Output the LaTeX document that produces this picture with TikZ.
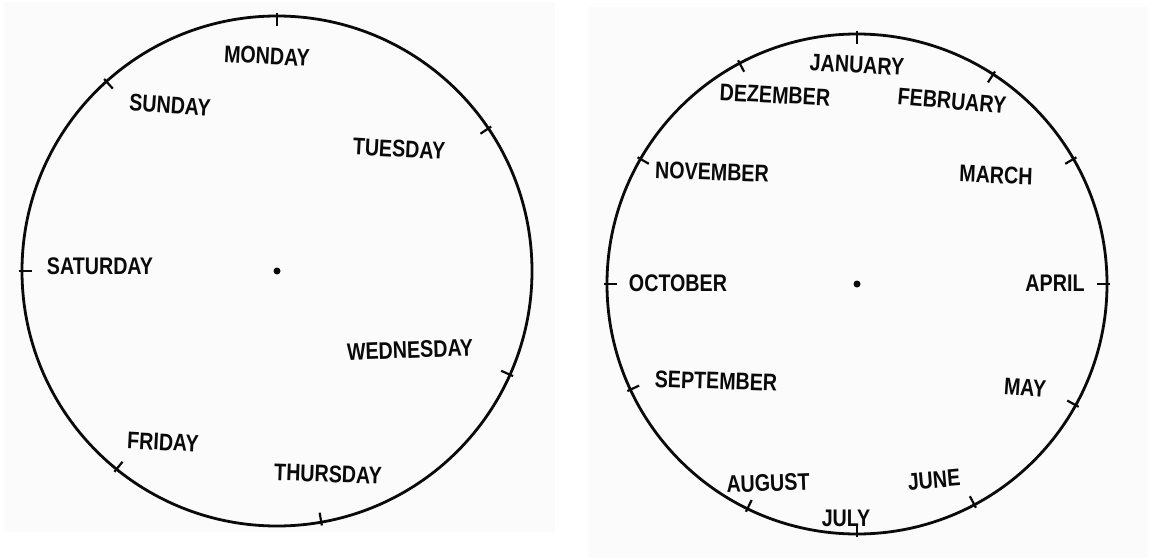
\documentclass[tikz,border=0pt]{standalone}
\usepackage{fontspec}
\usepackage{xcolor}
\usepackage{tikz}
\usetikzlibrary{positioning}
\setmainfont{Liberation Sans}[FakeStretch=0.82]
\definecolor{ink}{HTML}{0A0A0A}
\definecolor{paper}{HTML}{FBFBFB}

\begin{document}
\begin{tikzpicture}[
  x=1pt, y=1pt,
  font=\fontsize{24}{24}\selectfont\bfseries,
  face/.style={circle, draw=ink, line width=2.8pt, inner sep=0pt},
  lbl/.style={text=ink, inner sep=0pt},
  tk/.style={draw=ink, line width=2.2pt},
  hub/.style={circle, fill=ink, inner sep=0pt, minimum size=7pt}
]
\useasboundingbox (0,0) rectangle (1169,558);
\fill[paper] (4,26) rectangle (555,556);
\fill[paper] (588,0) rectangle (1148,551);

% weekdays
\node[face, minimum size=510pt] (lclock) at (277,287) {};
\node[hub] (lhub) at (lclock.center) {};
\foreach \a in {90,132,34,180,-24,-129,-80}
  \draw[tk] ([shift={(\a:2)}]lclock.\a) -- ([shift={({\a+180}:11)}]lclock.\a);

\node[lbl, rotate=-3] (mon) at (267,502) {MONDAY};
\node[lbl, rotate=-4] (sun) at (170,453) {SUNDAY};
\node[lbl, rotate=-3] (tue) at (399,409) {TUESDAY};
\node[lbl] (sat) at (100,292) {SATURDAY};
\node[lbl, rotate=2] (wed) at (410,208) {WEDNESDAY};
\node[lbl, rotate=-3] (fri) at (163,116) {FRIDAY};
\node[lbl, rotate=-2] (thu) at (328,84) {THURSDAY};

% months
\node[face, minimum size=500pt] (rclock) at (857,274) {};
\node[hub] (rhub) at (rclock.center) {};
\foreach \a in {90,118,57,150,30,180,0,205,-29,-116,-62,-90}
  \draw[tk] ([shift={(\a:2)}]rclock.\a) -- ([shift={({\a+180}:11)}]rclock.\a);

\node[lbl, rotate=-3] (jan) at (857,493) {JANUARY};
\node[lbl, rotate=-3] (dez) at (775,463) {DEZEMBER};
\node[lbl, rotate=-5] (feb) at (952,457) {FEBRUARY};
\node[lbl, rotate=-2] (nov) at (712,386) {NOVEMBER};
\node[lbl, rotate=-2] (mar) at (996,383) {MARCH};
\node[lbl] (oct) at (678,275) {OCTOBER};
\node[lbl] (apr) at (1055,275) {APRIL};
\node[lbl, rotate=-2] (sep) at (716,177) {SEPTEMBER};
\node[lbl, rotate=-4] (may) at (1025,170) {MAY};
\node[lbl, rotate=2] (aug) at (768,75) {AUGUST};
\node[lbl, rotate=5] (jun) at (934,78) {JUNE};
\node[lbl] (jul) at (846,40) {JULY};
\end{tikzpicture}
\end{document}
